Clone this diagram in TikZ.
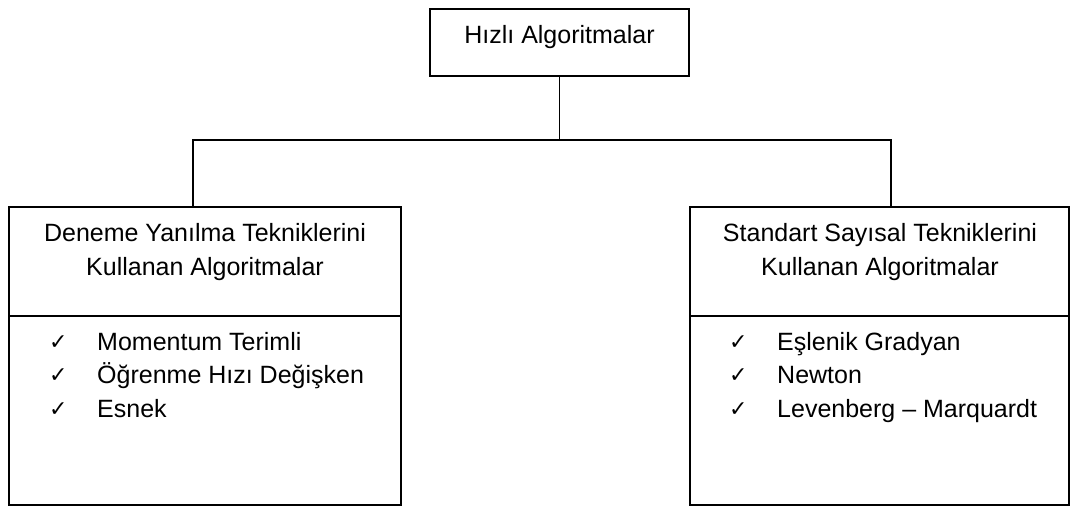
\documentclass[tikz,border=0pt]{standalone}
\usepackage{fontspec}
\setmainfont{Liberation Sans}
\newfontfamily\symfont{DejaVu Sans}
\begin{document}
\begin{tikzpicture}[x=1pt,y=-1pt,
  boxline/.style={draw=black,line width=1.7pt},
  conn/.style={draw=black,line width=1.5pt},
  txt/.style={inner sep=0pt,anchor=base,font=\fontsize{25}{30}\selectfont},
  itemtxt/.style={inner sep=0pt,anchor=base west,font=\fontsize{25}{30}\selectfont},
  tick/.style={inner sep=0pt,anchor=base west,font=\symfont\fontsize{22}{26}\selectfont}]
\useasboundingbox (0,0) rectangle (1071,509);

% top box
\node[boxline,minimum width=259pt,minimum height=67pt,inner sep=0pt] (top) at (559.5,42.5) {};
\node[txt] (toptxt) at (559.5,43) {Hızlı Algoritmalar};

% lower boxes
\node[boxline,minimum width=392pt,minimum height=298pt,inner sep=0pt] (lbox) at (205,356) {};
\node[boxline,minimum width=379pt,minimum height=298pt,inner sep=0pt] (rbox) at (879.5,356) {};

% dividers between heading and list
\draw[boxline] (lbox.west |- 0,316) -- (lbox.east |- 0,316);
\draw[boxline] (rbox.west |- 0,316) -- (rbox.east |- 0,316);

% headings
\node[txt] (lh1) at (205,241) {Deneme Yanılma Tekniklerini};
\node[txt] (lh2) at (205,275) {Kullanan Algoritmalar};
\node[txt] (rh1) at (880,241) {Standart Sayısal Tekniklerini};
\node[txt] (rh2) at (880,275) {Kullanan Algoritmalar};

% left list
\node[tick] (lt1) at (49,349) {✓};
\node[tick] (lt2) at (49,382.5) {✓};
\node[tick] (lt3) at (49,416) {✓};
\node[itemtxt] (li1) at (97,350) {Momentum Terimli};
\node[itemtxt] (li2) at (97,383.5) {Öğrenme Hızı Değişken};
\node[itemtxt] (li3) at (97,417) {Esnek};

% right list
\node[tick] (rt1) at (729,349) {✓};
\node[tick] (rt2) at (729,382.5) {✓};
\node[tick] (rt3) at (729,416) {✓};
\node[itemtxt] (ri1) at (777,350) {Eşlenik Gradyan};
\node[itemtxt] (ri2) at (777,383.5) {Newton};
\node[itemtxt] (ri3) at (777,417) {Levenberg – Marquardt};

% connectors
\coordinate (busL) at (193,140);
\coordinate (busR) at (891,140);
\draw[conn] (top.south) -- (top.south |- busL);
\draw[conn] (lbox.north -| busL) -- (busL) -- (busR) -- (rbox.north -| busR);
\end{tikzpicture}
\end{document}
